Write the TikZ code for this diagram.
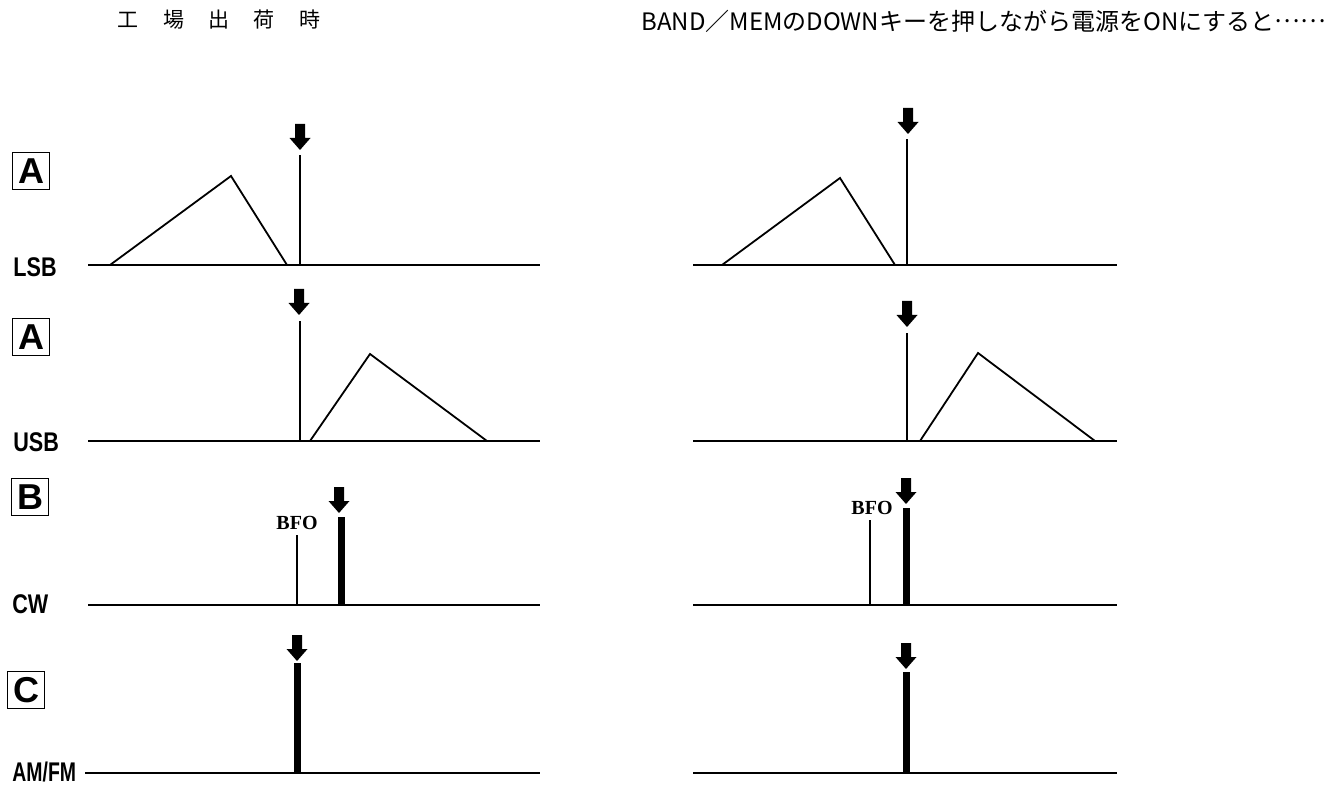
\documentclass[tikz,border=0pt]{standalone}
\usepackage{fontspec}
\setmainfont{Liberation Sans}
\newfontfamily\jpfont{Noto Sans CJK JP}
\newfontfamily\bfofont{Liberation Serif}
\newcommand{\modetext}[2][0.8]{\scalebox{#1}[1]{#2}}
\tikzset{
  baseline/.style={line width=1pt},
  passband/.style={line width=0.9pt, line join=miter},
  thinspike/.style={line width=0.9pt},
  thickspike/.style={line width=3.5pt},
  modelabel/.style={anchor=west, inner sep=0pt, font=\fontsize{13.5}{13.5}\selectfont\bfseries},
  letterbox/.style={draw, line width=0.7pt, minimum size=18.5pt, inner sep=0pt, font=\fontsize{18}{18}\selectfont\bfseries},
  bfolabel/.style={inner sep=0pt, font=\bfofont\fontsize{10}{10}\selectfont\bfseries},
  marker/.pic={\fill (-5,0) -- (5,0) -- (5,14) -- (10.5,14) -- (0,26) -- (-10.5,14) -- (-5,14) -- cycle;}
}
\begin{document}
\begin{tikzpicture}[x=0.5pt, y=-0.5pt]
  \useasboundingbox (0,0) rectangle (1325,785);
  % headings
  \node[font=\jpfont\fontsize{10.5}{10.5}\selectfont] (factory) at (219,20)
    {工\hspace{12.2pt}場\hspace{12.2pt}出\hspace{12.2pt}荷\hspace{12.2pt}時};
  \node[anchor=west, inner sep=0pt, font=\jpfont\fontsize{12}{12}\selectfont] (downkey) at (641,21)
    {BAND／MEMのDOWNキーを押しながら電源をONにすると\raisebox{0.33em}{……}};
  % filter letters and modes
  \node[letterbox] (boxA1) at (31,171) {A};
  \node[letterbox] (boxA2) at (31,337) {A};
  \node[letterbox] (boxB) at (30,497) {B};
  \node[letterbox] (boxC) at (26,690) {C};
  \node[modelabel] (lsb) at (13,267) {\modetext{LSB}};
  \node[modelabel] (usb) at (13,442) {\modetext{USB}};
  \node[modelabel] (cw) at (12,604) {\modetext{CW}};
  \node[modelabel] (amfm) at (12,772) {\modetext[0.72]{AM/FM}};
  % LSB
  \draw[baseline] (88,265) -- (540,265);
  \draw[passband] (110,265) -- (231,176) -- (287,265);
  \draw[thinspike] (300,265) -- (300,155);
  \pic at (300,124) {marker};
  \draw[baseline] (693,265) -- (1117,265);
  \draw[passband] (722,265) -- (840,178) -- (895,265);
  \draw[thinspike] (907,265) -- (907,139);
  \pic at (908,108) {marker};
  % USB
  \draw[baseline] (88,441) -- (540,441);
  \draw[passband] (310,441) -- (370,354) -- (487,441);
  \draw[thinspike] (300,441) -- (300,321);
  \pic at (299,289) {marker};
  \draw[baseline] (693,441) -- (1117,441);
  \draw[passband] (920,441) -- (978,353) -- (1095,441);
  \draw[thinspike] (907,441) -- (907,333);
  \pic at (907,301) {marker};
  % CW
  \draw[baseline] (88,605) -- (540,605);
  \draw[thinspike] (297,605) -- (297,535);
  \node[bfolabel] (bfoL) at (297,523) {BFO};
  \draw[thickspike] (341,605) -- (341,517);
  \pic at (339,487) {marker};
  \draw[baseline] (693,605) -- (1117,605);
  \draw[thinspike] (870,605) -- (870,520);
  \node[bfolabel] (bfoR) at (872,508) {BFO};
  \draw[thickspike] (906,605) -- (906,508);
  \pic at (906,478) {marker};
  % AM/FM
  \draw[baseline] (85,773) -- (540,773);
  \draw[thickspike] (297,773) -- (297,663);
  \pic at (297,635) {marker};
  \draw[baseline] (693,773) -- (1117,773);
  \draw[thickspike] (906,773) -- (906,672);
  \pic at (906,643) {marker};
\end{tikzpicture}
\end{document}
